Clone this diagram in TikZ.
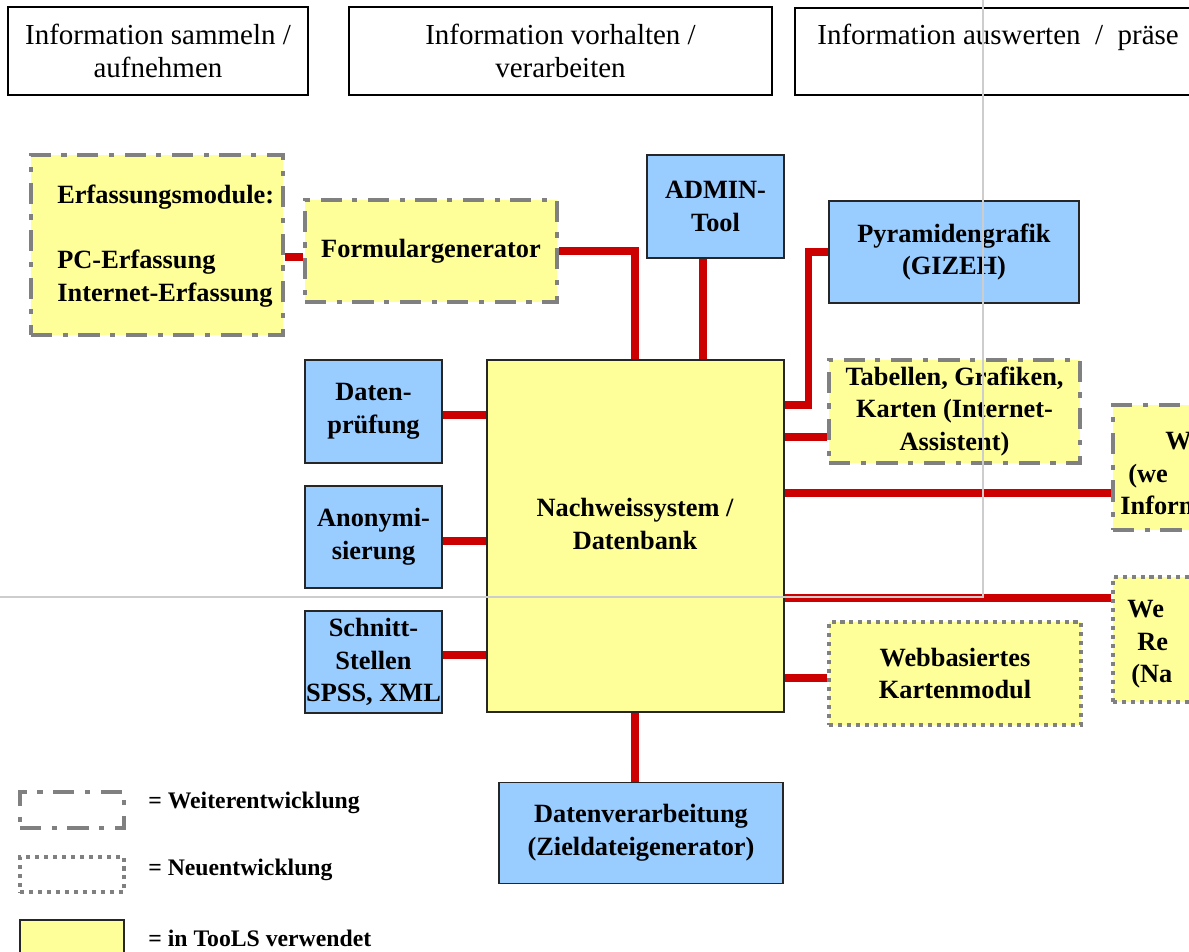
\documentclass[tikz,border=0pt]{standalone}
\usepackage{fontspec}
\setmainfont{Liberation Serif}
\usepackage{tikz}
\definecolor{box_blue}{RGB}{153,204,255}
\definecolor{box_yellow}{RGB}{255,255,153}
\definecolor{dash_gray}{RGB}{128,128,128}
\definecolor{link_red}{RGB}{204,0,0}
\definecolor{guide_gray}{RGB}{205,205,205}

\begin{document}
\begin{tikzpicture}[x=0.02cm,y=-0.02cm]
    \tikzstyle{box}=[rectangle, inner sep=0pt, align=center, text=black, font=\fontsize{15}{18.5}\selectfont\bfseries]
    \tikzstyle{head}=[box, draw=black, line width=1.3pt, fill=white, font=\fontsize{16.5}{19}\selectfont]
    \tikzstyle{bluebox}=[box, draw=black!85, line width=0.8pt, fill=box_blue]
    \tikzstyle{used}=[box, draw=black!85, line width=0.8pt, fill=box_yellow]
    \tikzstyle{weiter}=[box, draw=dash_gray, line width=2.3pt, fill=box_yellow, dash pattern=on 12pt off 6pt on 3pt off 6pt]
    \tikzstyle{neu}=[box, draw=dash_gray, line width=2.3pt, fill=box_yellow, dash pattern=on 2.3pt off 2.8pt]
    \tikzstyle{legtext}=[inner sep=0pt, anchor=west, font=\fontsize{13.5}{16}\selectfont\bfseries]
    \tikzstyle{link}=[draw=link_red, line width=4pt]
    \tikzstyle{guide}=[draw=guide_gray, line width=0.6pt]

    \fill[white] (0,0) rectangle (1189,952);
    \useasboundingbox (0,0) rectangle (1189,952);

    % headers
    \node[head, minimum width=6cm, minimum height=1.76cm] (h1) at (158,51) {Information sammeln /\\aufnehmen};
    \node[head, minimum width=8.46cm, minimum height=1.76cm] (h2) at (560.5,51) {Information vorhalten /\\verarbeiten};
    \node[head, minimum width=9.3cm, minimum height=1.74cm] (h3) at (1027.5,51.5) {};
    \node[inner sep=0pt, anchor=west, font=\fontsize{16.5}{19}\selectfont] (h3text) at (817,37) {Information auswerten~~/~~präse};

    % boxes
    \node[weiter, minimum width=5.04cm, minimum height=3.6cm] (erf) at (157,245) {};
    \node[box, anchor=north west, align=left] (erftext) at (57,185)
        {Erfassungsmodule:\\[18.5pt]PC-Erfassung\\Internet-Erfassung};
    \node[weiter, minimum width=5.04cm, minimum height=2.04cm] (form) at (431,251) {Formulargenerator};
    \node[bluebox, minimum width=2.74cm, minimum height=2.06cm] (admin) at (715.5,206.5) {ADMIN-\\Tool};
    \node[bluebox, minimum width=5cm, minimum height=2.04cm] (pyr) at (954,252) {Pyramidengrafik\\(GIZEH)};
    \node[used, minimum width=5.94cm, minimum height=7.04cm] (nach) at (635.5,536) {};
    \node[box] (nachtext) at (635,524) {Nachweissystem /\\Datenbank};
    \node[weiter, minimum width=5.02cm, minimum height=2.06cm] (tab) at (954.5,411.5) {Tabellen, Grafiken,\\Karten (Internet-\\Assistent)};
    \node[weiter, minimum width=2.74cm, minimum height=2.5cm] (w) at (1181.5,467.5) {};
    \node[box, anchor=north west, align=left] (wtext) at (1120,432) {\hspace*{25.6pt}W\\\hspace*{4.5pt}(we\\Inform};
    \node[neu, minimum width=2.74cm, minimum height=2.5cm] (we) at (1181.5,639.5) {};
    \node[box, anchor=north west, align=left] (wetext) at (1127,600) {We\\\hspace*{5.7pt}Re\\\hspace*{2.3pt}(Na};
    \node[neu, minimum width=5.04cm, minimum height=2.06cm] (karte) at (955,673.5) {Webbasiertes\\Kartenmodul};
    \node[bluebox, minimum width=2.74cm, minimum height=2.06cm] (pruef) at (373.5,411.5) {Daten-\\prüfung};
    \node[bluebox, minimum width=2.74cm, minimum height=2.04cm] (anon) at (373.5,537) {Anonymi-\\sierung};
    \node[bluebox, minimum width=2.74cm, minimum height=2.04cm] (schnitt) at (373.5,662) {Schnitt-\\Stellen\\SPSS, XML};
    \node[bluebox, minimum width=5.68cm, minimum height=2.02cm] (dverarb) at (641,833) {Datenverarbeitung\\(Zieldateigenerator)};

    % legend
    \node[weiter, fill=none, minimum width=2.08cm, minimum height=0.72cm] (lweiter) at (72,810) {};
    \node[neu, fill=none, minimum width=2.08cm, minimum height=0.7cm] (lneu) at (72,874.5) {};
    \node[used, minimum width=2.08cm, minimum height=0.72cm] (lused) at (72,938) {};
    \node[legtext] (tweiter) at (148,803) {= Weiterentwicklung};
    \node[legtext] (tneu) at (148,870) {= Neuentwicklung};
    \node[legtext] (tused) at (148,938) {= in TooLS verwendet};

    % connections
    \draw[link] (erf.east |- 0,257) -- (form.west |- 0,257);
    \draw[link] (form.east) -| (nach.north -| 635,0);
    \draw[link] (admin.south -| 703,0) -- (nach.north -| 703,0);
    \draw[link] (nach.east |- 0,405) -- ++(24,0) |- (pyr.west);
    \draw[link] (nach.east |- 0,437) -- (tab.west |- 0,437);
    \draw[link] (nach.east |- 0,493) -- (w.west |- 0,493);
    \draw[link] (nach.east |- 0,598) -- (we.west |- 0,598);
    \draw[link] (nach.east |- 0,678) -- (karte.west |- 0,678);
    \draw[link] (pruef.east |- 0,415) -- (nach.west |- 0,415);
    \draw[link] (anon.east |- 0,541) -- (nach.west |- 0,541);
    \draw[link] (schnitt.east |- 0,655) -- (nach.west |- 0,655);
    \draw[link] (nach.south -| 635,0) -- (dverarb.north -| 635,0);

    % guide lines
    \draw[guide] (983,0) -- (983,597) -- (0,597);
\end{tikzpicture}
\end{document}
